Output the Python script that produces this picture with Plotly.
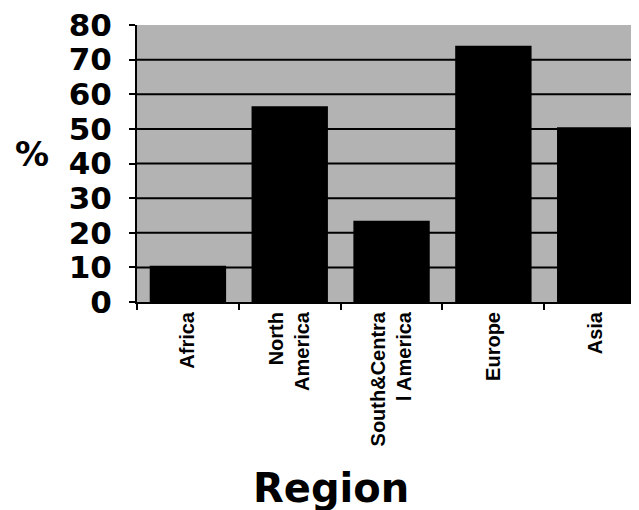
import plotly.graph_objects as go

regions = ["Africa", "North<br>America", "South&Centra<br>l America", "Europe", "Asia"]
percent = [10.5, 56.5, 23.5, 74, 50.5]
y_ticks = [0, 10, 20, 30, 40, 50, 60, 70, 80]
grid_vals = [10, 20, 30, 40, 50, 60, 70]

fig = go.Figure()
fig.add_trace(go.Bar(
    x=regions, y=percent,
    marker=dict(color="black", line=dict(width=0)),
    showlegend=False,
))

for g in grid_vals:
    fig.add_shape(type="line", xref="paper", yref="y", x0=0, x1=1, y0=g, y1=g,
                  line=dict(color="black", width=2), layer="below")

# page body has an 8px default margin, so the figure is sized to fit the window
fig.update_layout(
    width=631, height=502,
    margin=dict(l=129, r=0, t=17, b=208, autoexpand=False),
    paper_bgcolor="white",
    plot_bgcolor="#b3b3b3",
    bargap=0.25,
    xaxis=dict(
        type="category",
        range=[-0.5, 4.43],
        showline=True, linecolor="black", linewidth=2,
        ticks="outside", ticklen=6, tickwidth=2, tickcolor="black",
        tickson="boundaries",
        tickangle=-90,
        tickfont=dict(family="Liberation Sans Narrow, Liberation Sans", size=20,
                      color="black", weight="bold"),
        showgrid=False,
    ),
    yaxis=dict(
        range=[0, 80],
        tickvals=y_ticks,
        showline=True, linecolor="black", linewidth=2,
        ticks="outside", ticklen=6, tickwidth=2, tickcolor="black",
        tickfont=dict(family="DejaVu Sans", size=31, color="black", weight="bold"),
        ticklabelstandoff=11,
        ticklabeloverflow="allow",
        showgrid=False, zeroline=False,
    ),
    annotations=[
        dict(text="Region", xref="paper", yref="paper", x=0.386, y=-0.671,
             xanchor="center", yanchor="middle", showarrow=False,
             font=dict(family="DejaVu Sans", size=40, color="black", weight="bold")),
        dict(text="%", xref="paper", yref="paper", x=-0.209, y=0.535,
             xanchor="center", yanchor="middle", showarrow=False,
             font=dict(family="DejaVu Sans", size=34, color="black", weight="bold")),
    ],
)

fig.write_html("out.html")
